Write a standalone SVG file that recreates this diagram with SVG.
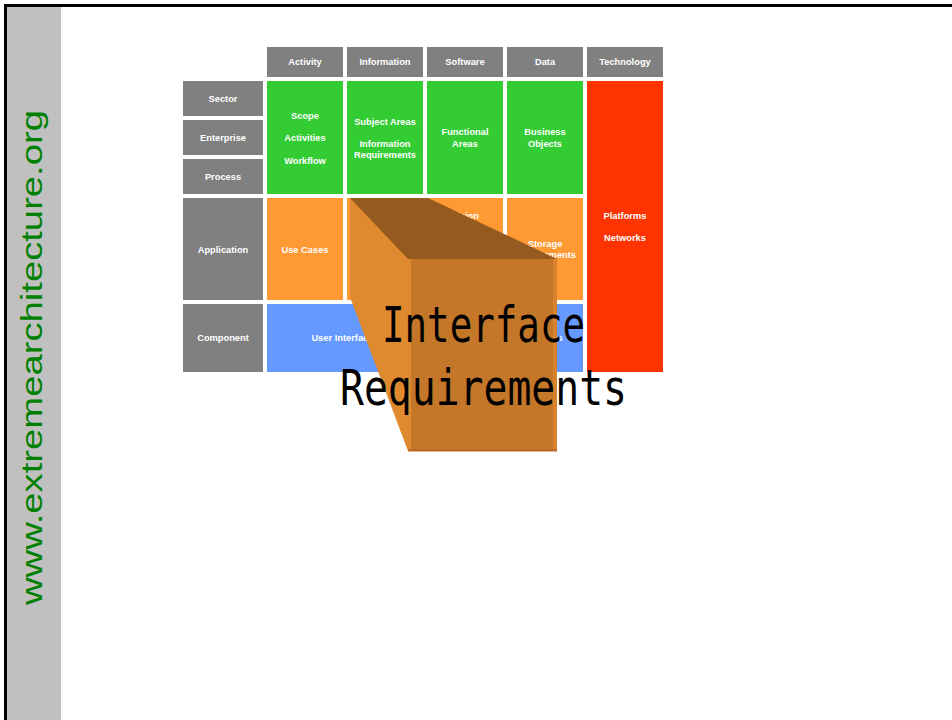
<svg xmlns="http://www.w3.org/2000/svg" width="952" height="720" viewBox="0 0 952 720">
<style>
.cell{stroke:none}
.g{fill:#808080}
.gr{fill:#33CC33}
.or{fill:#FF9933}
.rd{fill:#FF3300}
.bl{fill:#6699FF}
.t{font-family:"Liberation Sans",Arial,sans-serif;font-weight:bold;font-size:9.3px;fill:#ffffff;text-anchor:middle}
.big{font-family:"DejaVu Sans Mono","Liberation Mono",monospace;font-size:50px;fill:#000000;text-anchor:middle}
</style>
<rect x="0" y="0" width="952" height="720" fill="#ffffff"/>
<rect x="7" y="7" width="54" height="713" fill="#C0C0C0"/>
<path d="M5.5,720 V5.5 H952" fill="none" stroke="#000000" stroke-width="3"/>
<text transform="translate(42,605) rotate(-90)" x="0" y="0" font-family="Liberation Sans, Arial, sans-serif" font-size="30" fill="#008000" textLength="495" lengthAdjust="spacingAndGlyphs">www.extremearchitecture.org</text>

<g id="col-activity"><rect class="cell g" x="267" y="47" width="76" height="30"/><text class="t" x="305" y="65">Activity</text></g>
<g id="col-information"><rect class="cell g" x="347" y="47" width="76" height="30"/><text class="t" x="385" y="65">Information</text></g>
<g id="col-software"><rect class="cell g" x="427" y="47" width="76" height="30"/><text class="t" x="465" y="65">Software</text></g>
<g id="col-data"><rect class="cell g" x="507" y="47" width="76" height="30"/><text class="t" x="545" y="65">Data</text></g>
<g id="col-technology"><rect class="cell g" x="587" y="47" width="76" height="30"/><text class="t" x="625" y="65">Technology</text></g>

<g id="row-sector"><rect class="cell g" x="183" y="81" width="80" height="35"/><text class="t" x="223" y="102">Sector</text></g>
<g id="row-enterprise"><rect class="cell g" x="183" y="120" width="80" height="35"/><text class="t" x="223" y="141">Enterprise</text></g>
<g id="row-process"><rect class="cell g" x="183" y="159" width="80" height="35"/><text class="t" x="223" y="180">Process</text></g>
<g id="row-application"><rect class="cell g" x="183" y="198" width="80" height="102"/><text class="t" x="223" y="253">Application</text></g>
<g id="row-component"><rect class="cell g" x="183" y="304" width="80" height="68"/><text class="t" x="223" y="341">Component</text></g>

<g id="activity-green"><rect class="cell gr" x="267" y="81" width="76" height="113"/><text class="t" x="305" y="119.3">Scope</text><text class="t" x="305" y="141">Activities</text><text class="t" x="305" y="163.6">Workflow</text></g>
<g id="information-green"><rect class="cell gr" x="347" y="81" width="76" height="113"/><text class="t" x="385" y="125">Subject Areas</text><text class="t" x="385" y="147">Information</text><text class="t" x="385" y="158">Requirements</text></g>
<g id="software-green"><rect class="cell gr" x="427" y="81" width="76" height="113"/><text class="t" x="465" y="135">Functional</text><text class="t" x="465" y="147">Areas</text></g>
<g id="data-green"><rect class="cell gr" x="507" y="81" width="76" height="113"/><text class="t" x="545" y="135">Business</text><text class="t" x="545" y="147">Objects</text></g>
<g id="technology-red"><rect class="cell rd" x="587" y="81" width="76" height="291"/><text class="t" x="625" y="219">Platforms</text><text class="t" x="625" y="241">Networks</text></g>

<g id="activity-orange"><rect class="cell or" x="267" y="198" width="76" height="102"/><text class="t" x="305" y="253">Use Cases</text></g>
<g id="information-orange"><rect class="cell or" x="347" y="198" width="76" height="102"/></g>
<g id="software-orange"><rect class="cell or" x="427" y="198" width="76" height="102"/><text class="t" x="465" y="219">Vision</text></g>
<g id="data-orange"><rect class="cell or" x="507" y="198" width="76" height="102"/><text class="t" x="545" y="247.3">Storage</text><text class="t" x="545" y="257.6">Requirements</text></g>

<g id="component-blue-left"><rect class="cell bl" x="267" y="304" width="156" height="68"/><text class="t" x="345" y="341">User Interfaces</text></g>
<g id="component-blue-right"><rect class="cell bl" x="427" y="304" width="156" height="68"/><text class="t" x="545" y="341">Classes</text></g>

<g id="connectors"></g>

<g id="interface-requirements-box">
<path d="M350,198 L411,259 L411,451 L408,451 L350,297 Z" fill="#E08A30"/>
<path d="M350,198 L428,198 L557,259 L408,259 Z" fill="#955A1F"/>
<rect x="411" y="259" width="146" height="192" fill="#C47629"/>
<rect x="553" y="259" width="4" height="192" fill="#D9822E"/>
<rect x="408" y="449" width="149" height="2.5" fill="#B96B24"/>
<text class="big" x="483.5" y="341.5" textLength="203" lengthAdjust="spacingAndGlyphs">Interface</text>
<text class="big" x="483.5" y="405" textLength="287" lengthAdjust="spacingAndGlyphs">Requirements</text>
</g>
</svg>
